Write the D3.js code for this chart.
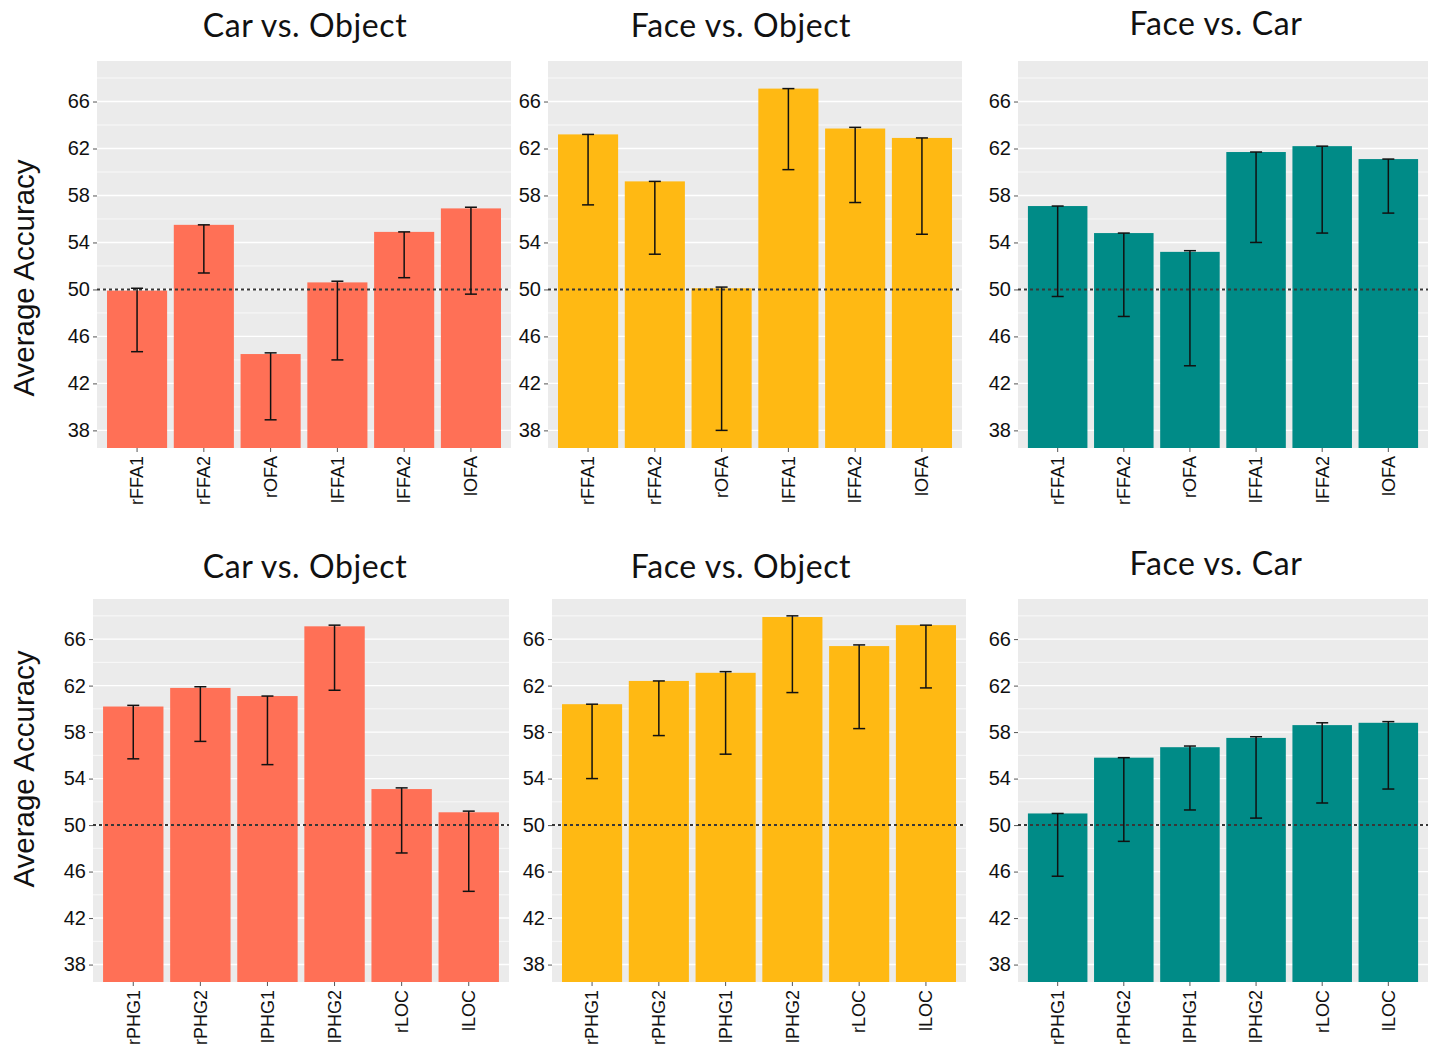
<!DOCTYPE html>
<html>
<head>
<meta charset="utf-8">
<script src="https://cdn.jsdelivr.net/npm/d3@7"></script>
<style>
body { margin: 0; background: #fff; }
svg { display: block; }
</style>
</head>
<body>
<div class="chart"></div>
<script>
// categories
var topRegions = ['rFFA1', 'rFFA2', 'rOFA', 'lFFA1', 'lFFA2', 'lOFA'];
var bottomRegions = ['rPHG1', 'rPHG2', 'lPHG1', 'lPHG2', 'rLOC', 'lLOC'];
var contrasts = ['Car vs. Object', 'Face vs. Object', 'Face vs. Car'];
var yTicks = [38, 42, 46, 50, 54, 58, 62, 66];
var yMinor = [40, 44, 48, 52, 56, 60, 64, 68];
var chance = 50;

// top row (face areas): mean, lower and upper end of the error bar
var topCarObjMean  = [49.9, 55.5, 44.5, 50.6, 54.9, 56.9];
var topCarObjLow   = [44.7, 51.4, 38.9, 44.0, 51.0, 49.6];
var topCarObjHigh  = [50.1, 55.5, 44.6, 50.7, 54.9, 57.0];

var topFaceObjMean = [63.2, 59.2, 50.1, 67.1, 63.7, 62.9];
var topFaceObjLow  = [57.2, 53.0, 38.0, 60.2, 57.4, 54.7];
var topFaceObjHigh = [63.2, 59.2, 50.2, 67.1, 63.8, 62.9];

var topFaceCarMean = [57.1, 54.8, 53.2, 61.7, 62.2, 61.1];
var topFaceCarLow  = [49.4, 47.7, 43.5, 54.0, 54.8, 56.5];
var topFaceCarHigh = [57.1, 54.8, 53.3, 61.7, 62.2, 61.1];

// bottom row (object/scene areas)
var botCarObjMean  = [60.2, 61.8, 61.1, 67.1, 53.1, 51.1];
var botCarObjLow   = [55.7, 57.2, 55.2, 61.6, 47.6, 44.3];
var botCarObjHigh  = [60.3, 61.9, 61.1, 67.2, 53.2, 51.2];

var botFaceObjMean = [60.4, 62.4, 63.1, 67.9, 65.4, 67.2];
var botFaceObjLow  = [54.0, 57.7, 56.1, 61.4, 58.3, 61.8];
var botFaceObjHigh = [60.4, 62.4, 63.2, 68.0, 65.5, 67.2];

var botFaceCarMean = [51.0, 55.8, 56.7, 57.5, 58.6, 58.8];
var botFaceCarLow  = [45.6, 48.6, 51.3, 50.6, 51.9, 53.1];
var botFaceCarHigh = [51.0, 55.8, 56.8, 57.6, 58.8, 58.9];

var colors = ['#FF7056', '#FFB913', '#008B87'];

var svg = d3.select('div.chart')
  .append('svg')
  .attr('width', 1432)
  .attr('height', 1044);

var panels = [
  {x0: 97,   x1: 511,  y0: 61,  y1: 448, regions: topRegions, mean: topCarObjMean,  low: topCarObjLow,  high: topCarObjHigh,  c: 0, tx: 305,  ty: 37},
  {x0: 548,  x1: 962,  y0: 61,  y1: 448, regions: topRegions, mean: topFaceObjMean, low: topFaceObjLow, high: topFaceObjHigh, c: 1, tx: 741,  ty: 37},
  {x0: 1018, x1: 1428, y0: 61,  y1: 448, regions: topRegions, mean: topFaceCarMean, low: topFaceCarLow, high: topFaceCarHigh, c: 2, tx: 1216, ty: 35},
  {x0: 93,   x1: 509,  y0: 599, y1: 982, regions: bottomRegions, mean: botCarObjMean,  low: botCarObjLow,  high: botCarObjHigh,  c: 0, tx: 305,  ty: 578},
  {x0: 552,  x1: 966,  y0: 599, y1: 982, regions: bottomRegions, mean: botFaceObjMean, low: botFaceObjLow, high: botFaceObjHigh, c: 1, tx: 741,  ty: 578},
  {x0: 1018, x1: 1428, y0: 599, y1: 982, regions: bottomRegions, mean: botFaceCarMean, low: botFaceCarLow, high: botFaceCarHigh, c: 2, tx: 1216, ty: 575}
];

panels.forEach(function(p) {
  var x = d3.scaleBand()
    .domain(p.regions)
    .range([p.x0, p.x1])
    .paddingInner(0.1)
    .paddingOuter(0.15);

  var y = d3.scaleLinear()
    .domain([36.5, 69.45])
    .range([p.y1, p.y0]);

  var data = p.regions.map(function(r, i) {
    return {name: r, mean: p.mean[i], low: p.low[i], high: p.high[i]};
  });

  var g = svg.append('g');

  // panel background
  g.append('rect')
    .attr('x', p.x0).attr('y', p.y0)
    .attr('width', p.x1 - p.x0).attr('height', p.y1 - p.y0)
    .attr('fill', '#EBEBEB');

  // grid
  g.selectAll('.minor')
    .data(yMinor)
    .enter()
    .append('line')
    .attr('x1', p.x0).attr('x2', p.x1)
    .attr('y1', function(d) { return y(d); })
    .attr('y2', function(d) { return y(d); })
    .attr('stroke', '#fff').attr('stroke-width', 0.7);

  g.selectAll('.major')
    .data(yTicks)
    .enter()
    .append('line')
    .attr('x1', p.x0).attr('x2', p.x1)
    .attr('y1', function(d) { return y(d); })
    .attr('y2', function(d) { return y(d); })
    .attr('stroke', '#fff').attr('stroke-width', 1.4);

  // bars
  g.selectAll('.bar')
    .data(data)
    .enter()
    .append('rect')
    .attr('x', function(d) { return x(d.name); })
    .attr('width', x.bandwidth())
    .attr('y', function(d) { return y(d.mean); })
    .attr('height', function(d) { return p.y1 - y(d.mean); })
    .attr('fill', colors[p.c]);

  // chance line
  g.append('line')
    .attr('x1', p.x0).attr('x2', p.x1)
    .attr('y1', y(chance)).attr('y2', y(chance))
    .attr('stroke', '#383838')
    .attr('stroke-width', 2)
    .attr('stroke-dasharray', '3,3');

  // error bars
  var eb = g.selectAll('.err')
    .data(data)
    .enter()
    .append('g')
    .attr('stroke', '#111')
    .attr('stroke-width', 1.5);

  eb.append('line')
    .attr('x1', function(d) { return x(d.name) + x.bandwidth() / 2; })
    .attr('x2', function(d) { return x(d.name) + x.bandwidth() / 2; })
    .attr('y1', function(d) { return y(d.low); })
    .attr('y2', function(d) { return y(d.high); });

  ['low', 'high'].forEach(function(k) {
    eb.append('line')
      .attr('x1', function(d) { return x(d.name) + x.bandwidth() / 2 - 6; })
      .attr('x2', function(d) { return x(d.name) + x.bandwidth() / 2 + 6; })
      .attr('y1', function(d) { return y(d[k]); })
      .attr('y2', function(d) { return y(d[k]); });
  });

  // y axis
  var yAxis = d3.axisLeft(y)
    .tickValues(yTicks)
    .tickSize(4)
    .tickPadding(3);

  var ya = g.append('g')
    .attr('transform', 'translate(' + p.x0 + ',0)')
    .call(yAxis);
  ya.select('.domain').remove();
  ya.selectAll('line').attr('stroke', '#555');
  ya.selectAll('text')
    .attr('fill', '#111')
    .style('font-family', 'Liberation Sans, Arial, sans-serif')
    .style('font-size', '20px');

  // x axis
  var xAxis = d3.axisBottom(x)
    .tickSize(4)
    .tickPadding(4);

  var xa = g.append('g')
    .attr('transform', 'translate(0,' + p.y1 + ')')
    .call(xAxis);
  xa.select('.domain').remove();
  xa.selectAll('line').attr('stroke', '#555');
  xa.selectAll('text')
    .attr('fill', '#111')
    .attr('transform', 'rotate(-90)')
    .attr('text-anchor', 'end')
    .attr('dy', '0.35em')
    .attr('x', -8)
    .attr('y', 0)
    .style('font-family', 'Liberation Sans, Arial, sans-serif')
    .style('font-size', '18px');

  // title
  svg.append('text')
    .attr('x', p.tx)
    .attr('y', p.ty)
    .attr('text-anchor', 'middle')
    .style('font-family', 'Lato, Open Sans, sans-serif')
    .style('font-size', '32px')
    .style('letter-spacing', '0.6px')
    .attr('fill', '#111')
    .text(contrasts[p.c]);
});

// y axis titles
[278, 769].forEach(function(cy) {
  svg.append('text')
    .attr('transform', 'translate(34,' + cy + ') rotate(-90)')
    .attr('text-anchor', 'middle')
    .style('font-family', 'Liberation Sans, Arial, sans-serif')
    .style('font-size', '29.5px')
    .attr('fill', '#111')
    .text('Average Accuracy');
});
</script>
</body>
</html>
